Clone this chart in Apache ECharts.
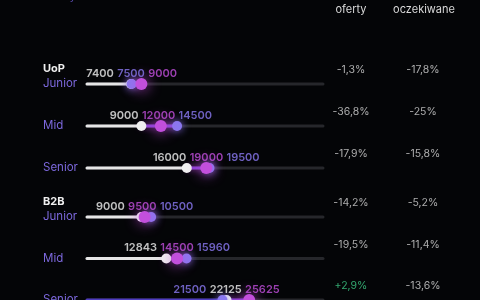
<!DOCTYPE html>
<html>
<head>
<meta charset="utf-8">
<script src="https://cdn.jsdelivr.net/npm/echarts@6/dist/echarts.min.js"></script>
<style>
  html, body { margin: 0; padding: 0; background: #040507; }
  #chart { width: 480px; height: 300px; }
</style>
</head>
<body>
<div id="chart"></div>
<script>
// dane
const sections = ['UoP', 'B2B']
const levels = ['Junior', 'Mid', 'Senior']
const realne = [7400, 9000, 16000, 9000, 12843, 22125]
const oferty = [7500, 14500, 19500, 10500, 15960, 21500]
const oczekiwane = [9000, 12000, 19000, 9500, 14500, 25625]
const vsOferty = ['-1,3%', '-36,8%', '-17,9%', '-14,2%', '-19,5%', '+2,9%']
const vsOczekiwane = ['-17,8%', '-25%', '-15,8%', '-5,2%', '-11,4%', '-13,6%']
const pctColumns = ['oferty', 'oczekiwane']

const colors = {
  realne: '#f0f0f0',
  oferty: '#8a78f0',
  oczekiwane: '#c24fdc'
}
const lowLine = {realne: '#e6e6e6', oferty: '#4e3cbf', oczekiwane: '#9a3cc8'}
const FONT = 'Inter'

const chart = echarts.init(document.getElementById('chart'))

function rowsOf(s) {
  let out = []
  for (let i = 0; i < 3; i++) out.push(s * 3 + i)
  return out
}

function sorted(i) {
  return [
    {v: realne[i], k: 'realne'},
    {v: oferty[i], k: 'oferty'},
    {v: oczekiwane[i], k: 'oczekiwane'}
  ].sort((a, b) => a.v - b.v)
}

function renderTrack(params, api) {
  const row = api.value(3)
  const vals = [
    {v: api.value(0), k: 'realne'},
    {v: api.value(1), k: 'oferty'},
    {v: api.value(2), k: 'oczekiwane'}
  ].sort((a, b) => a.v - b.v)
  const cs = params.coordSys
  const start = api.coord([0, row])
  const lo = api.coord([vals[0].v, row])
  const hi = api.coord([vals[2].v, row])
  const y = start[1]
  return {
    type: 'group',
    children: [
      {type: 'line', shape: {x1: start[0] + 4, y1: y, x2: cs.x + cs.width, y2: y},
        style: {stroke: '#26272b', lineWidth: 3, lineCap: 'round'}},
      {type: 'line', shape: {x1: start[0] + 4, y1: y, x2: lo[0], y2: y},
        style: {stroke: lowLine[vals[0].k], lineWidth: 3, lineCap: 'round'}},
      {type: 'line', shape: {x1: lo[0], y1: y, x2: hi[0], y2: y},
        style: {stroke: '#8c3fd4', lineWidth: 3, lineCap: 'round',
          shadowBlur: 6, shadowColor: 'rgba(180,60,220,0.8)'}}
    ]
  }
}

let grids = [], xAxes = [], yAxes = [], series = []
sections.forEach((sec, s) => {
  // środek pierwszego i ostatniego wiersza
  const top = s === 0 ? 84 : 217
  const h = s === 0 ? 84 : 83
  grids.push({left: 83, top: top, width: 240, height: h, outerBoundsMode: 'none'})
  grids.push({left: 315, top: top, width: 144, height: h, outerBoundsMode: 'none'})
  const g = s * 2
  xAxes.push({gridIndex: g, type: 'value', min: 0, max: 37000, show: false})
  xAxes.push({gridIndex: g + 1, type: 'category', data: pctColumns, show: false})
  yAxes.push({
    gridIndex: g, type: 'category', data: levels, inverse: true, boundaryGap: false,
    axisLine: {show: false}, axisTick: {show: false}, splitLine: {show: false},
    axisLabel: {align: 'left', margin: 40, color: '#7c68dc', fontSize: 11.5, fontFamily: FONT}
  })
  yAxes.push({gridIndex: g + 1, type: 'category', data: levels, inverse: true, boundaryGap: false, show: false})

  const rows = rowsOf(s)
  series.push({
    type: 'custom', xAxisIndex: g, yAxisIndex: g,
    renderItem: renderTrack,
    encode: {x: [0, 1, 2], y: 3},
    data: rows.map((i, r) => [realne[i], oferty[i], oczekiwane[i], r]),
    z: 1
  })
  // kropki
  const dots = [
    ['realne', realne, 10, 0],
    ['oferty', oferty, 10, 8],
    ['oczekiwane', oczekiwane, 12, 14]
  ]
  dots.forEach(d => {
    series.push({
      type: 'scatter', xAxisIndex: g, yAxisIndex: g,
      symbolSize: d[2],
      itemStyle: {color: colors[d[0]], opacity: 1, shadowBlur: d[3], shadowColor: colors[d[0]]},
      data: rows.map((i, r) => [d[1][i], r]),
      z: 3
    })
  })
  // liczby nad torem
  series.push({
    type: 'scatter', xAxisIndex: g, yAxisIndex: g,
    symbolSize: 1, itemStyle: {color: 'rgba(0,0,0,0)'},
    data: rows.map((i, r) => [sorted(i)[1].v, r, i]),
    label: {
      show: true, position: 'top', distance: 4,
      formatter: p => sorted(p.data[2]).map(o => '{' + o.k + '|' + o.v + '}').join(' '),
      rich: {
        realne: {color: colors.realne, fontWeight: 600, fontSize: 11, fontFamily: FONT},
        oferty: {color: colors.oferty, fontWeight: 600, fontSize: 11, fontFamily: FONT},
        oczekiwane: {color: colors.oczekiwane, fontWeight: 600, fontSize: 11, fontFamily: FONT}
      }
    },
    z: 4
  })
  // procenty
  let pct = []
  rows.forEach((i, r) => {
    pct.push({value: [0, r, vsOferty[i]], pos: vsOferty[i].startsWith('+')})
    pct.push({value: [1, r, vsOczekiwane[i]], pos: vsOczekiwane[i].startsWith('+')})
  })
  series.push({
    type: 'scatter', xAxisIndex: g + 1, yAxisIndex: g + 1,
    symbolSize: 1, itemStyle: {color: 'rgba(0,0,0,0)'},
    data: pct.map(d => ({
      value: d.value,
      label: {color: d.pos ? '#3fcf8a' : '#d6d6d6'}
    })),
    label: {
      show: true, position: 'top', distance: 8,
      fontSize: 10.5, fontFamily: FONT,
      formatter: p => p.value[2]
    }
  })
})

const headStyle = {fontSize: 11, fontFamily: FONT}
const option = {
  backgroundColor: '#040507',
  animation: false,
  grid: grids,
  xAxis: xAxes,
  yAxis: yAxes,
  series: series,
  graphic: [
    {type: 'text', x: 43, y: -9, style: Object.assign({text: 'Oferty', fill: '#5a4cb0'}, headStyle)},
    {type: 'text', x: 88, y: -9, style: Object.assign({text: 'Realne zarobki', fill: '#c8c8c8'}, headStyle)},
    {type: 'text', x: 182, y: -9, style: Object.assign({text: 'Oczekiwane zarobki', fill: '#7a48b8'}, headStyle)},
    {type: 'text', x: 351, y: -10, style: {text: 'Realne vs\noferty', fill: '#d8d8d8', fontSize: 11, fontFamily: FONT, align: 'center', lineHeight: 13}},
    {type: 'text', x: 424, y: -10, style: {text: 'Realne vs\noczekiwane', fill: '#d8d8d8', fontSize: 11, fontFamily: FONT, align: 'center', lineHeight: 13}},
    {type: 'text', x: 43, y: 63, style: {text: sections[0], fill: '#f0f0f0', fontSize: 11, fontWeight: 'bold', fontFamily: FONT}},
    {type: 'text', x: 43, y: 196, style: {text: sections[1], fill: '#f0f0f0', fontSize: 11, fontWeight: 'bold', fontFamily: FONT}}
  ]
}
chart.setOption(option)
</script>
</body>
</html>
